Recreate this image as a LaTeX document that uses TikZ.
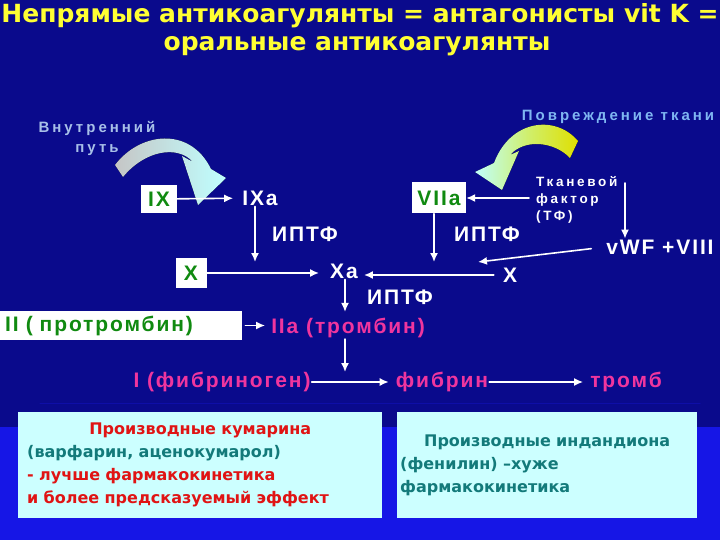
\documentclass[tikz,border=0pt]{standalone}
\usepackage{fontspec}
\setmainfont{Liberation Sans}
\newfontfamily\comicfont{DejaVu Sans}
\newfontfamily\labelfont[LetterSpace=9]{Liberation Sans}
\newfontfamily\widefont[LetterSpace=20]{Liberation Sans}
\usetikzlibrary{arrows.meta, positioning}

\definecolor{bgdark}{HTML}{0A0A8C}
\definecolor{bglight}{HTML}{1616E6}
\definecolor{titleyellow}{HTML}{FFFF33}
\definecolor{pathblue}{HTML}{A8C0E8}
\definecolor{injuryblue}{HTML}{7FB6F2}
\definecolor{factgreen}{HTML}{108A10}
\definecolor{thrpink}{HTML}{F0359E}
\definecolor{infocyan}{HTML}{CCFFFF}
\definecolor{infored}{HTML}{E01414}
\definecolor{infoteal}{HTML}{137A7A}

\begin{document}
\begin{tikzpicture}[x=1pt, y=-1pt, line cap=round, line join=round,
  lbl/.style={text=white, font=\labelfont\bfseries\fontsize{21}{23}\selectfont, inner sep=1pt},
  small/.style={text=white, font=\widefont\bfseries\fontsize{13.5}{17}\selectfont, inner sep=1pt},
  factorbox/.style={fill=white, text=factgreen, font=\labelfont\bfseries\fontsize{21}{23}\selectfont, inner sep=2pt},
  pinklbl/.style={text=thrpink, font=\labelfont\bfseries\fontsize{21}{23}\selectfont, inner sep=1pt},
  flow/.style={draw=white, line width=1.6pt, -{Latex[length=9pt,width=8pt]}},
  infobox/.style={fill=infocyan, font=\comicfont\bfseries\fontsize{16}{23}\selectfont, align=left, inner sep=0pt}]

% --- Fondo ---
\useasboundingbox (0,0) rectangle (720,540);
\fill[bgdark] (0,0) rectangle (720,540);
\fill[bglight] (0,427) rectangle (720,540);
\draw[bgdark!70!bglight, line width=1pt] (40,403) -- (700,403);

% --- Titolo ---
\node[text=titleyellow, font=\comicfont\bfseries\fontsize{25}{28}\selectfont] (title1) at (360,16) {Непрямые антикоагулянты = антагонисты vit K =};
\node[text=titleyellow, font=\comicfont\bfseries\fontsize{25}{28}\selectfont] (title2) at (357,46) {оральные антикоагулянты};

% --- Frecce curve ---
\fill[left color=gray!45, right color=cyan!25]
  (123,177) -- (115,165) .. controls (140,132) and (190,126) .. (211,169)
  -- (226,178) -- (198,205) -- (182,156) -- (193,162)
  .. controls (178,145) and (145,150) .. (123,177) -- cycle;
\fill[left color=cyan!25, right color=yellow!75!olive]
  (578,141) .. controls (555,114) and (510,120) .. (494,163)
  -- (475,172) -- (502,190) -- (519,151) -- (510,155)
  .. controls (525,138) and (555,142) .. (570,158) -- cycle;

% --- Via intrinseca ---
\node[text=pathblue, font=\widefont\bfseries\fontsize{15}{20}\selectfont, align=center] (intrinsic) at (97,138) {Внутренний\\путь};
\node[factorbox, minimum width=36pt, minimum height=28pt] (ix) at (159,199) {IX};
\node[lbl] (ixa) at (260,198) {IXa};
\node[lbl] (iptf1) at (305,234) {ИПТФ};
\node[factorbox, minimum width=31pt, minimum height=30pt] (x1) at (191,273) {X};
\node[lbl] (xa) at (344,271) {Xa};
\coordinate (ixaend) at (255,262);

% --- Via estrinseca ---
\node[text=injuryblue, font=\widefont\bfseries\fontsize{15}{20}\selectfont] (injury) at (618,117) {Повреждение ткани};
\node[factorbox, minimum width=54pt, minimum height=31pt] (viia) at (439,198) {VIIa};
\node[small, anchor=west, align=left] (tf) at (535,200) {Тканевой\\фактор\\(ТФ)};
\node[lbl] (vwf) at (660,247) {vWF +VIII};
\node[lbl] (iptf2) at (487,234) {ИПТФ};
\node[lbl] (x2) at (510,275) {X};
\coordinate (tfdown) at (625,183);
\coordinate (vwfend) at (478,262);
\coordinate (viiaend) at (434,262);

% --- Via comune ---
\node[lbl] (iptf3) at (400,297) {ИПТФ};
\node[factorbox, anchor=west, minimum height=29pt, text width=232pt, inner xsep=5pt, align=left] (ii) at (0,325.5) {II ( протромбин)};
\node[pinklbl] (iia) at (348,328) {IIa (тромбин)};
\node[pinklbl] (fbg) at (222,382) {I (фибриноген)};
\node[pinklbl] (fibrin) at (442,382) {фибрин};
\node[pinklbl] (thrombus) at (626,382) {тромб};
\coordinate (iiaend) at (345,372);

% --- Frecce ---
\draw[flow, shorten >=8pt] (ix) -- (ixa);
\draw[flow] (ixa.south -| ixaend) -- (ixaend);
\draw[flow, shorten >=10pt] (x1.east) -- (x1.east -| xa.west);
\draw[flow, shorten <=6pt] (tf.west |- viia) -- (viia.east);
\draw[flow] (tfdown) -- (tfdown |- vwf.north);
\draw[flow, shorten <=14pt] (vwf.west) -- (vwfend);
\draw[flow] (viia.south -| viiaend) -- (viiaend);
\draw[flow, shorten <=8pt, shorten >=5pt] (x2.west) -- (x2.west -| xa.east);
\draw[flow, shorten >=5pt] (xa.south -| iiaend) -- (iiaend |- iia.north);
\draw[flow, shorten <=3pt, shorten >=5pt] (ii.east) -- (ii.east -| iia.west);
\draw[flow] (iia.south -| iiaend) -- (iiaend);
\draw[flow, shorten >=6pt] (fbg.east) -- (fibrin.west);
\draw[flow, shorten >=6pt] (fibrin.east) -- (thrombus.west);

% --- Riquadri inferiori ---
\node[infobox, anchor=north west, minimum width=364pt, minimum height=106pt, text width=346pt] (coumarin) at (18,412)
  {\makebox[346pt]{\color{infored}Производные кумарина}\\
   \color{infoteal}(варфарин, аценокумарол)\\
   \color{infored}- лучше фармакокинетика\\
   \color{infored}и более предсказуемый эффект};
\node[infobox, anchor=north west, minimum width=300pt, minimum height=106pt, text width=294pt] (indandione) at (397,412)
  {\makebox[294pt]{\color{infoteal}Производные индандиона}\\
   \color{infoteal}(фенилин) –хуже\\
   \color{infoteal}фармакокинетика};
\end{tikzpicture}
\end{document}
